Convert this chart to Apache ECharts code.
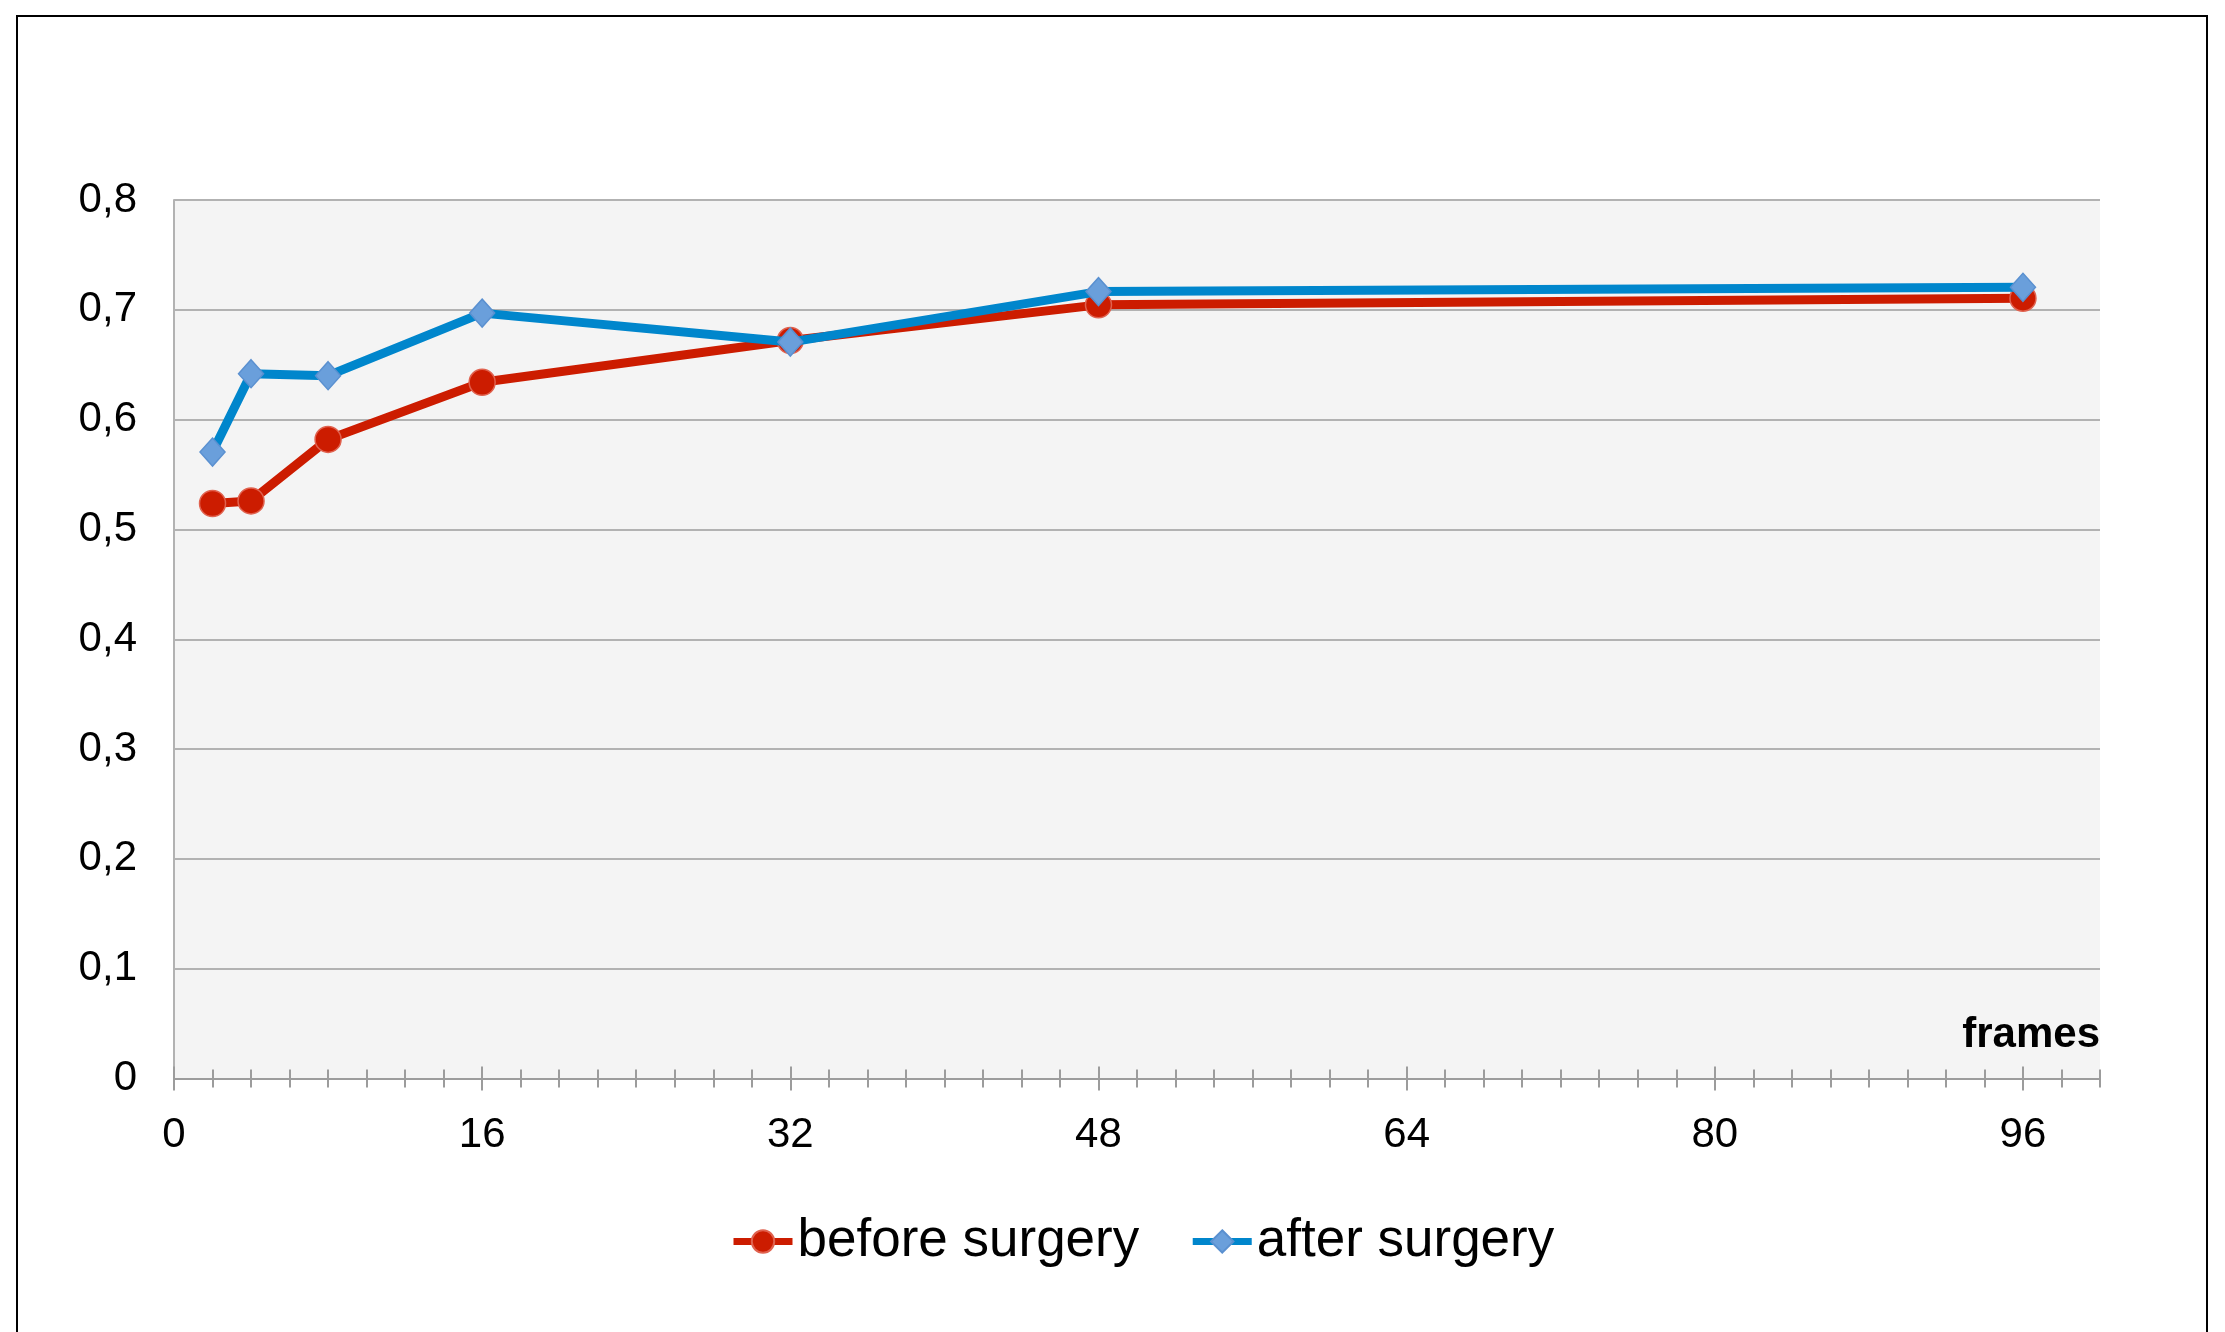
<!DOCTYPE html>
<html>
<head>
<meta charset="utf-8">
<script src="https://cdn.jsdelivr.net/npm/echarts@6/dist/echarts.min.js"></script>
<style>
html,body{margin:0;padding:0;background:#fff;}
#chart{width:2225px;height:1332px;}
</style>
</head>
<body>
<div id="chart"></div>
<script>
// ---- data ----
var frames = [2, 4, 8, 16, 32, 48, 96];
var beforeSurgery = [0.5236, 0.526, 0.582, 0.634, 0.672, 0.7045, 0.7106];
var afterSurgery = [0.5705, 0.6418, 0.640, 0.697, 0.6706, 0.7166, 0.7205];
var xTickLabels = [0, 16, 32, 48, 64, 80, 96];
var seriesNames = ['before surgery', 'after surgery'];
var xAxisName = 'frames';

function pairs(xs, ys) { return xs.map(function (x, i) { return [x, ys[i]]; }); }

var FONT = '"Liberation Sans", Arial, Helvetica, sans-serif';
var gridGray = '#B2B2B2';
var axisGray = '#9C9C9C';

function baseX(extra) {
  var o = {
    type: 'value', min: 0, max: 100, interval: 2, position: 'bottom',
    splitLine: { show: false },
    axisLine: { show: false },
    axisLabel: { show: false },
    axisTick: { show: false }
  };
  for (var k in extra) o[k] = extra[k];
  return o;
}

var chart = echarts.init(document.getElementById('chart'), null, { renderer: 'canvas' });
chart.setOption({
  animation: false,
  backgroundColor: '#ffffff',
  textStyle: { fontFamily: FONT },
  graphic: [{
    type: 'rect',
    shape: { x: 17, y: 16, width: 2190, height: 1400 },
    style: { fill: 'none', stroke: '#000000', lineWidth: 2 },
    silent: true, z: -10
  }],
  grid: {
    left: 174, top: 200, right: 125, bottom: 253.5,
    show: true, backgroundColor: '#F4F4F4', borderWidth: 0,
    containLabel: false
  },
  legend: {
    data: seriesNames,
    left: 725, top: 1210,
    itemWidth: 59, itemHeight: 28, itemGap: 50,
    lineStyle: { width: 7 },
    textStyle: { fontSize: 53, color: '#000', fontFamily: FONT }
  },
  xAxis: [
    baseX({
      axisLine: { show: true, onZero: false, lineStyle: { color: axisGray, width: 2 } },
      axisTick: { show: true, inside: false, length: 9, lineStyle: { color: axisGray, width: 2 } },
      axisLabel: {
        show: true, customValues: xTickLabels, margin: 36,
        fontSize: 42, color: '#000', fontFamily: FONT
      },
      name: xAxisName, nameLocation: 'end', nameGap: 0,
      nameTextStyle: {
        fontSize: 42, fontWeight: 'bold', color: '#000', fontFamily: FONT,
        align: 'right', verticalAlign: 'bottom', padding: [0, 0, 22, 0]
      }
    }),
    baseX({ axisTick: { show: true, inside: true, length: 9, lineStyle: { color: axisGray, width: 2 } } }),
    baseX({ axisTick: { show: true, inside: false, length: 12, customValues: xTickLabels, lineStyle: { color: axisGray, width: 2 } } }),
    baseX({ axisTick: { show: true, inside: true, length: 12, customValues: xTickLabels, lineStyle: { color: axisGray, width: 2 } } })
  ],
  yAxis: {
    type: 'value', min: 0, max: 0.8, interval: 0.1,
    axisLine: { show: true, lineStyle: { color: gridGray, width: 2 } },
    axisTick: { show: false },
    splitLine: { show: true, lineStyle: { color: gridGray, width: 2 } },
    axisLabel: {
      margin: 37, fontSize: 42, color: '#000', fontFamily: FONT,
      padding: [10, 0, 0, 0],
      formatter: function (v) {
        if (Math.abs(v) < 1e-9) return '0';
        return v.toFixed(1).replace('.', ',');
      }
    }
  },
  series: [
    {
      name: seriesNames[0], type: 'line', xAxisIndex: 0,
      data: pairs(frames, beforeSurgery),
      symbol: 'circle', symbolSize: 26,
      lineStyle: { color: '#CC1C00', width: 9 },
      itemStyle: { color: '#CC1C00', borderColor: '#E0624F', borderWidth: 1.5 },
      z: 2
    },
    {
      name: seriesNames[1], type: 'line', xAxisIndex: 0,
      data: pairs(frames, afterSurgery),
      symbol: 'diamond', symbolSize: [25, 28],
      lineStyle: { color: '#0086CC', width: 9 },
      itemStyle: { color: '#6A9FDB', borderColor: '#5A90D0', borderWidth: 1.5 },
      z: 3
    }
  ]
});
</script>
</body>
</html>
